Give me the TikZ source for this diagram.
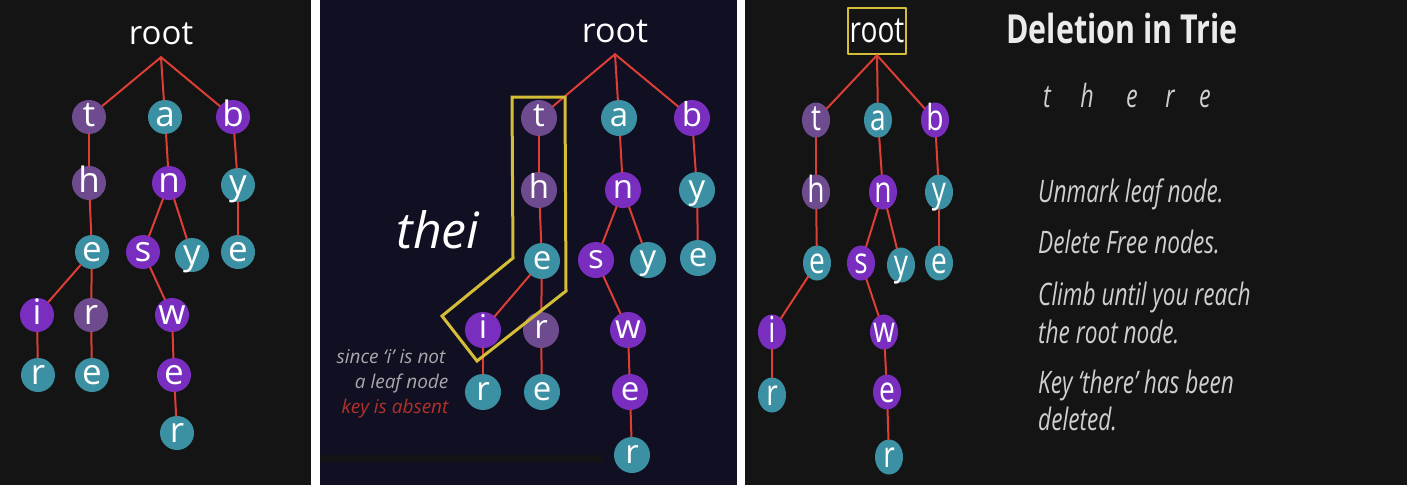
\documentclass[tikz,border=0pt]{standalone}
\usepackage{fontspec}
\usetikzlibrary{shapes.geometric}
\setmainfont{Open Sans}
\newfontfamily\squeeze[FakeStretch=0.78]{Open Sans}
\newfontfamily\titlesans[FakeStretch=0.76]{Open Sans}
\newfontfamily\slantA{Open Sans}
\newfontfamily\slantB[FakeStretch=0.73]{Open Sans}
\newcommand\lightit{\slantA\itshape}
\newcommand\lightitn{\slantB\itshape}
\definecolor{bgdark}{HTML}{141414}
\definecolor{bgnavy}{HTML}{110F22}
\definecolor{dimv}{HTML}{6E4A8E}
\definecolor{vivid}{HTML}{7A2EC0}
\definecolor{seac}{HTML}{3B91A3}
\definecolor{linkred}{HTML}{DD3E35}
\definecolor{hilite}{HTML}{D4BE37}
\definecolor{greytxt}{HTML}{CFCFCF}
\begin{document}
\begin{tikzpicture}[x=1pt,y=-1pt,line join=round,line cap=round,
	letter/.style={circle,inner sep=0pt,minimum size=34pt,text=white,text height=18pt,text depth=0pt,font=\fontsize{35}{35}\selectfont},
	dim/.style={letter,fill=dimv},vio/.style={letter,fill=vivid},sea/.style={letter,fill=seac},
	oval/.style={ellipse,minimum width=28pt,minimum height=35pt,text height=21pt,text depth=0pt,font=\squeeze\fontsize{36}{36}\selectfont},
	rootbox/.style={inner sep=0pt,minimum width=58pt,minimum height=46pt,text=white,font=\fontsize{33}{33}\selectfont},
	link/.style={draw=linkred,line width=2pt}]
\useasboundingbox (0,0) rectangle (1407,485);
\fill[white] (0,0) rectangle (1407,485);
\fill[bgdark] (0,0) rectangle (311,485);
\fill[bgnavy] (320,0) rectangle (737,485);
\fill[bgdark] (320,455) rectangle (602,462);
\fill[bgdark] (745,0) rectangle (1407,485);
\node[rootbox] (Aroot) at (161,34) {root};
\node[rootbox,font=\fontsize{34}{34}\selectfont] (Broot) at (615,31) {root};
\node[rootbox,draw=hilite,line width=2.5pt,font=\squeeze\fontsize{36}{36}\selectfont] (Croot) at (877,31) {root};
\foreach \n/\l/\s/\x/\y in {t/t/dim/89/117,a/a/sea/165/117,b/b/vio/233/117,th/h/dim/89/183,an/n/vio/169/183,by/y/sea/238/185,the/e/sea/92/252,ans/s/vio/143/252,any/y/sea/192/255,bye/e/sea/238/252,thei/i/vio/37/315,ther/r/dim/91/315,answ/w/vio/172/315,their/r/sea/38/375,there/e/sea/92/375,answe/e/vio/174/375,answer/r/sea/177/433}{\node[\s] (A\n) at (\x,\y) {\l};}
\foreach \n/\l/\s/\x/\y in {t/t/dim/539/118,a/a/sea/619/118,b/b/vio/692/118,th/h/dim/539/190,an/n/vio/623/190,by/y/sea/697/190,the/e/sea/542/261,ans/s/vio/596/260,any/y/sea/648/260,bye/e/sea/698/258,thei/i/vio/483/330,ther/r/dim/541/330,answ/w/vio/628/330,their/r/sea/483/392,there/e/sea/542/392,answe/e/vio/630/392,answer/r/sea/632/455}{\node[\s,minimum size=36pt,text height=17pt,font=\fontsize{33}{33}\selectfont] (B\n) at (\x,\y) {\l};}
\foreach \n/\l/\s/\x/\y in {t/t/dim/816/120,a/a/sea/878/120,b/b/vio/935/120,th/h/dim/816/192,an/n/vio/883/192,by/y/sea/939/192,the/e/sea/817/263,ans/s/vio/861/263,any/y/sea/901/265,bye/e/sea/939/263,thei/i/vio/772/332,answ/w/vio/884/332,their/r/sea/772/395,answe/e/vio/887/392,answer/r/sea/889/457}{\node[\s,oval] (C\n) at (\x,\y) {\makebox[0pt]{\l}};}
\foreach \k in {A,B,C}{\foreach \c in {t,a,b}{\draw[link] (\k root.south)--(\k\c);}
	\foreach \p/\c in {t/th,th/the,the/thei,thei/their,a/an,an/ans,an/any,ans/answ,answ/answe,answe/answer,b/by,by/bye}{\draw[link] (\k\p)--(\k\c);}}
\foreach \k in {A,B}{\foreach \p/\c in {the/ther,ther/there}{\draw[link] (\k\p)--(\k\c);}}
\draw[hilite,line width=3pt,line cap=butt,line join=miter] (512,97)--(565,97)--(566,291)--(477,361)--(442,316)--(513,258)--cycle;
\node[text=white,font=\lightit\fontsize{50}{50}\selectfont] (word) at (438,230) {thei};
\node[anchor=base east,text=greytxt!80!bgnavy,font=\lightit\fontsize{19}{19}\selectfont] (why1) at (449,363) {since ‘i’ is not};
\node[anchor=base east,text=greytxt!80!bgnavy,font=\lightit\fontsize{19}{19}\selectfont] (why2) at (452,388) {a leaf node};
\node[anchor=base east,text=linkred!80!black,font=\lightit\fontsize{19}{19}\selectfont] (why3) at (452,413) {key is absent};
\node[anchor=base,text=white!92!black,font=\titlesans\bfseries\fontsize{40}{40}\selectfont] (title) at (1122,43) {Deletion in Trie};
\foreach \c/\x [count=\i] in {t/1047,h/1087,e/1132,r/1170,e/1205}{\node[anchor=base,text=greytxt,font=\lightitn\fontsize{32}{32}\selectfont] (key\i) at (\x,107) {\c};}
\foreach \t/\y [count=\i] in {Unmark leaf node./202,Delete Free nodes./253,Climb until you reach/305,the root node./343,Key ‘there’ has been/393,deleted./430}{\node[anchor=base west,inner sep=0pt,text=greytxt,font=\lightitn\fontsize{31}{31}\selectfont] (step\i) at (1038,\y) {\t};}
\end{tikzpicture}
\end{document}
